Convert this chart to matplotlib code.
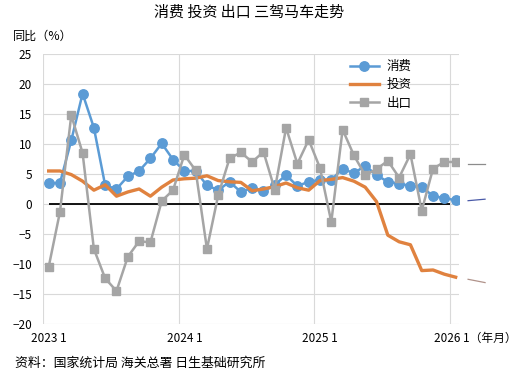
import matplotlib.pyplot as plt

plt.rcParams['font.family'] = ['Noto Sans CJK SC', 'DejaVu Sans']

# 2023年1月 ~ 2026年1月（月次、前年同月比 %）
tick_labels = ['2023 1', '2024 1', '2025 1', '2026 1']
consumption = [3.5, 3.5, 10.6, 18.4, 12.7, 3.1, 2.5, 4.6, 5.5, 7.6, 10.1, 7.4,
               5.5, 5.5, 3.1, 2.3, 3.7, 2.0, 2.7, 2.1, 3.2, 4.8, 3.0, 3.7,
               4.0, 4.0, 5.9, 5.1, 6.4, 4.8, 3.7, 3.4, 3.0, 2.9, 1.3, 1.0,
               0.6]
investment = [5.5, 5.5, 4.9, 3.8, 2.3, 3.2, 1.3, 2.0, 2.5, 1.3, 2.8, 4.0,
              4.2, 4.3, 4.7, 3.9, 3.7, 3.6, 2.2, 2.5, 2.9, 3.5, 2.7, 2.3,
              3.9, 4.1, 4.4, 3.8, 2.8, 0.4, -5.2, -6.3, -6.8, -11.1, -11.0, -11.7,
              -12.2]
exports = [-10.5, -1.3, 14.8, 8.5, -7.5, -12.4, -14.5, -8.8, -6.2, -6.4, 0.5, 2.3,
           8.2, 5.6, -7.5, 1.5, 7.6, 8.6, 7.0, 8.7, 2.4, 12.7, 6.7, 10.7,
           6.0, -3.0, 12.4, 8.1, 4.8, 5.8, 7.2, 4.4, 8.3, -1.1, 5.9, 7.0,
           7.0]
months = list(range(len(consumption)))

# 右外側に残っている短い線（元画像のまま）
tail_x = [37.1, 38.6]
tail_consumption = [0.55, 0.8]
tail_investment = [-12.55, -13.1]
tail_exports = [6.7, 6.7]

blue = '#5B9BD5'
orange = '#E0823F'
gray = '#A5A5A5'

fig = plt.figure(figsize=(5.22, 3.74), dpi=100)
ax = fig.add_axes([0.0824, 0.1337, 0.797, 0.722])

ax.plot(months, consumption, color=blue, lw=1.8, marker='o', ms=6.8, label='消费', zorder=3)
ax.plot(months, investment, color=orange, lw=2.4, label='投资', zorder=3)
ax.plot(months, exports, color=gray, lw=1.8, marker='s', ms=5.4, label='出口', zorder=3)

ax.hlines(0, months[0], months[-1] - 0.5, color='black', lw=1.3, zorder=2)

ax.plot(tail_x, tail_consumption, color='#4A5AA8', lw=0.9, clip_on=False)
ax.plot(tail_x, tail_investment, color='#B0928A', lw=0.9, clip_on=False)
ax.plot(tail_x, tail_exports, color='#8C8C8C', lw=0.9, clip_on=False)

ax.set_xlim(-0.5, 36.3)
ax.set_ylim(-20, 25)
ax.set_yticks(range(-20, 26, 5))
ax.set_xticks(months[::12])
# 最後のラベルは「（年月）」と一緒に別に書く
ax.set_xticklabels(tick_labels[:-1] + [''])
ax.set_xticks([m - 0.5 for m in months[::12]], minor=True)

ax.grid(axis='y', color='#D9D9D9', lw=0.8)
ax.grid(axis='x', which='minor', color='#D9D9D9', lw=0.8)
ax.set_axisbelow(True)
for s in ax.spines.values():
    s.set_visible(False)
ax.tick_params(axis='both', which='both', length=0, labelsize=8.5, colors='black')
ax.tick_params(axis='y', pad=8)
ax.tick_params(axis='x', pad=6)

ax.annotate(tick_labels[-1] + '（年月）', xy=(months[-1], 0), xycoords=('data', 'axes fraction'),
            xytext=(-15.5, -10), textcoords='offset points', ha='left', va='center', fontsize=8.5)

ax.legend(loc='upper left', bbox_to_anchor=(350 / 522, 1 - 60 / 374),
          bbox_transform=fig.transFigure, frameon=False, fontsize=9,
          handlelength=2.3, handletextpad=0.6, labelspacing=0.42,
          borderpad=0, borderaxespad=0)

fig.text(249 / 522, 1 - 13 / 374, '消费 投资 出口 三驾马车走势', ha='center', va='center', fontsize=10.8)
fig.text(13 / 522, 1 - 36 / 374, '同比（%）', ha='left', va='center', fontsize=8.7)
fig.text(15 / 522, 1 - 363 / 374, '资料：国家统计局 海关总署 日生基础研究所', ha='left', va='center', fontsize=9.3)

fig.savefig('out.png', dpi=100)
